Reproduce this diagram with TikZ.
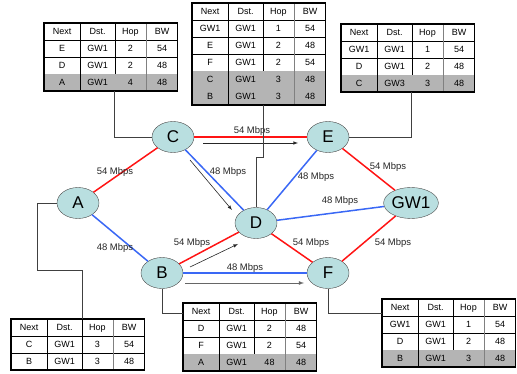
\documentclass[tikz,border=0pt]{standalone}
\usepackage{fontspec}
\setmainfont{Liberation Sans}
\usepackage{array}
\usepackage{colortbl}
\usetikzlibrary{arrows,shapes.geometric}

\definecolor{nodefill}{HTML}{B9DFE0}
\definecolor{linkred}{HTML}{FF1414}
\definecolor{linkblue}{HTML}{3A68F5}
\definecolor{rowgrey}{HTML}{B4B4B4}

\newcolumntype{Y}[1]{>{\centering\arraybackslash}p{#1}}
\newcolumntype{T}{Y{36pt}|Y{34pt}|Y{31pt}!{\color{gray}\vrule width 1.2pt}Y{30pt}}
\setlength{\tabcolsep}{0pt}
\newcommand{\rs}{\rule[-5.3pt]{0pt}{16.6pt}}
\newcommand{\hdrow}{Next & Dst. & Hop & BW\rs\\}
\newcommand{\tabfont}{\fontsize{9}{10}\selectfont}

\begin{document}
\begin{tikzpicture}[x=1pt, y=-1pt]
\tikzstyle{rnode}=[ellipse, draw=black!70, fill=nodefill, minimum width=42pt, minimum height=31pt, inner sep=0pt, font=\fontsize{17}{17}\selectfont]
\tikzstyle{rtab}=[inner sep=0pt, anchor=north west, font=\tabfont]
\tikzstyle{tframe}=[line width=1.5pt]
\tikzstyle{lbl}=[inner sep=0pt, text=black!85, font=\fontsize{9.5}{10}\selectfont]
\tikzstyle{redl}=[linkred, line width=1.5pt]
\tikzstyle{bluel}=[linkblue, line width=1.5pt]
\tikzstyle{conn}=[black!75, line width=0.7pt]
\useasboundingbox (0,0) rectangle (517,374);

% routers
\draw (78,203) node (A) [rnode] {A};
\draw (173,137) node (C) [rnode] {C};
\draw (162,273) node (B) [rnode] {B};
\draw (256,223) node (D) [rnode] {D};
\draw (328,137) node (E) [rnode] {E};
\draw (328,273) node (F) [rnode] {F};
\draw (411,203) node (G) [rnode] {GW1};

% links
\draw[redl] (A) -- (C);
\draw[bluel] (A) -- (B);
\draw[bluel] (C) -- (D);
\draw[redl] (C) -- (E);
\draw[redl] (B) -- (D);
\draw[bluel] (B) -- (F);
\draw[bluel] (D) -- (E);
\draw[bluel] (D) -- (G);
\draw[redl] (D) -- (F);
\draw[redl] (E) -- (G);
\draw[redl] (F) -- (G);

% link labels
\node[lbl] (lAC) at (115,172) {54 Mbps};
\node[lbl] (lAB) at (115,248) {48 Mbps};
\node[lbl] (lCD) at (228,172) {48 Mbps};
\node[lbl] (lCE) at (252,131) {54 Mbps};
\node[lbl] (lBD) at (192,243) {54 Mbps};
\node[lbl] (lBF) at (245,268) {48 Mbps};
\node[lbl] (lDE) at (316,177) {48 Mbps};
\node[lbl] (lDG) at (340,201) {48 Mbps};
\node[lbl] (lDF) at (311,243) {54 Mbps};
\node[lbl] (lEG) at (388,167) {54 Mbps};
\node[lbl] (lFG) at (393,243) {54 Mbps};

% flow arrows
\coordinate (c1) at (190,160);
\coordinate (c2) at (232,210);
\coordinate (c3) at (190,267);
\coordinate (c4) at (238,244);
\coordinate (c5) at (203,143);
\coordinate (c6) at (298,143);
\coordinate (c7) at (185,283);
\coordinate (c8) at (304,283);
\draw[-latex, black!85, line width=0.6pt] (c1) -- (c2);
\draw[-latex, black!85, line width=0.6pt] (c3) -- (c4);
\draw[-latex, black!85, line width=0.6pt] (c5) -- (c6);
\draw[-latex, black!60, line width=0.8pt] (c7) -- (c8);

% routing tables
\draw (44,23) node (tC) [rtab] {\begin{tabular}{T}
\hdrow\hline
E & GW1 & 2 & 54\rs\\\hline
D & GW1 & 2 & 48\rs\\\hline
\rowcolor{rowgrey} A & GW1 & 4 & 48\rs\\
\end{tabular}};
\draw (192,3) node (tD) [rtab] {\begin{tabular}{T}
\hdrow\hline
GW1 & GW1 & 1 & 54\rs\\\hline
E & GW1 & 2 & 48\rs\\\hline
F & GW1 & 2 & 54\rs\\\hline
\rowcolor{rowgrey} C & GW1 & 3 & 48\rs\\\hline
\rowcolor{rowgrey} B & GW1 & 3 & 48\rs\\
\end{tabular}};
\draw (341,24) node (tE) [rtab] {\begin{tabular}{T}
\hdrow\hline
GW1 & GW1 & 1 & 54\rs\\\hline
D & GW1 & 2 & 48\rs\\\hline
\rowcolor{rowgrey} C & GW3 & 3 & 48\rs\\
\end{tabular}};
\draw (11,319) node (tA) [rtab] {\begin{tabular}{T}
\hdrow\hline
C & GW1 & 3 & 54\rs\\\hline
B & GW1 & 3 & 48\rs\\
\end{tabular}};
\draw (183,303) node (tB) [rtab] {\begin{tabular}{T}
\hdrow\hline
D & GW1 & 2 & 48\rs\\\hline
F & GW1 & 2 & 54\rs\\\hline
\rowcolor{rowgrey} A & GW1 & 48 & 48\rs\\
\end{tabular}};
\draw (382,299) node (tF) [rtab] {\begin{tabular}{T}
\hdrow\hline
GW1 & GW1 & 1 & 54\rs\\\hline
D & GW1 & 2 & 48\rs\\\hline
\rowcolor{rowgrey} B & GW1 & 3 & 48\rs\\
\end{tabular}};
\foreach \t in {tA,tB,tC,tD,tE,tF}
  \draw[tframe] (\t.north west) rectangle (\t.south east);

% table leaders
\draw[conn] ([xshift=4pt]tC.south) |- (C.west);
\draw[conn] ([xshift=5pt]tD.south) -- ++(0,52) -| (D.north);
\draw[conn] ([xshift=4pt]tE.south) |- (E.east);
\draw[conn] (A.west) -- ++(-19,0) -- ++(0,67) -| ([xshift=5pt]tA.north);
\draw[conn] (B.south) |- ([yshift=-10pt]tB.north west);
\draw[conn] (F.south) |- ([yshift=-14pt]tF.north west);
\end{tikzpicture}
\end{document}
